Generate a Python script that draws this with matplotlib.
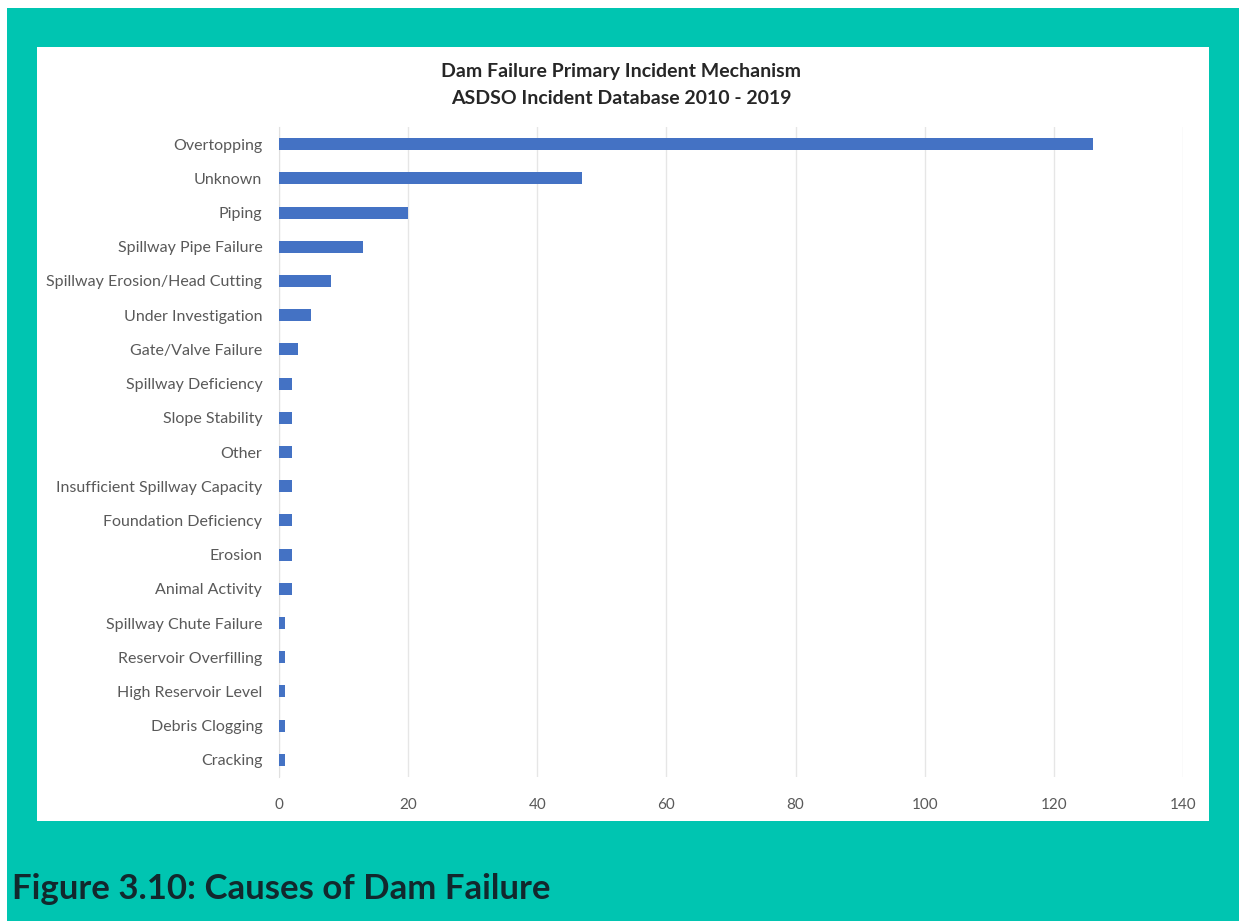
import matplotlib.pyplot as plt
from matplotlib.patches import Rectangle

# incident counts, listed top to bottom
mechanisms = [
    "Overtopping", "Unknown", "Piping", "Spillway Pipe Failure",
    "Spillway Erosion/Head Cutting", "Under Investigation", "Gate/Valve Failure",
    "Spillway Deficiency", "Slope Stability", "Other",
    "Insufficient Spillway Capacity", "Foundation Deficiency", "Erosion",
    "Animal Activity", "Spillway Chute Failure", "Reservoir Overfilling",
    "High Reservoir Level", "Debris Clogging", "Cracking",
]
counts = [126, 47, 20, 13, 8, 5, 3, 2, 2, 2, 2, 2, 2, 2, 1, 1, 1, 1, 1]
x_ticks = [0, 20, 40, 60, 80, 100, 120, 140]

TEAL = "#00C5B1"
BAR = "#4472C4"
GREY_TXT = "#595959"

plt.rcParams['font.family'] = ['Lato', 'DejaVu Sans']

W, H = 1239, 921
fig = plt.figure(figsize=(W / 100, H / 100), dpi=100)
fig.patch.set_facecolor("white")

# teal frame and white chart panel (pixel boxes converted to figure fractions)
def px_rect(x0, y0, x1, y1, color, z):
    fig.patches.append(Rectangle((x0 / W, 1 - y1 / H), (x1 - x0) / W, (y1 - y0) / H,
                                 transform=fig.transFigure, facecolor=color,
                                 edgecolor="none", zorder=z))

px_rect(7, 8, W, H, TEAL, 0)
px_rect(37, 47, 1209, 821, "white", 1)

ax = fig.add_axes([279 / W, 1 - 777 / H, (1183 - 279) / W, (777 - 127) / H])
ax.set_zorder(2)
ax.set_facecolor("none")

ypos = list(range(len(mechanisms)))
ax.barh(ypos, counts, height=0.35, color=BAR, zorder=3)
ax.set_ylim(len(mechanisms) - 0.5, -0.5)
ax.set_yticks(ypos)
ax.set_yticklabels(mechanisms, fontsize=11.5, color=GREY_TXT)

ax.set_xlim(0, 140)
ax.set_xticks(x_ticks)
ax.set_xticklabels([str(t) for t in x_ticks], fontsize=11, color=GREY_TXT)
ax.tick_params(axis="both", length=0)
ax.tick_params(axis="y", pad=12)
ax.tick_params(axis="x", pad=15)
ax.grid(axis="x", color="#E6E6E6", linewidth=1, zorder=0)

for side in ["top", "right", "bottom"]:
    ax.spines[side].set_visible(False)
ax.spines["left"].set_color("#E0E0E0")

fig.text(621 / W, 1 - 72 / H, "Dam Failure Primary Incident Mechanism",
         ha="center", va="center", fontsize=14, fontweight="bold", color="#262626", zorder=3)
fig.text(621 / W, 1 - 99 / H, "ASDSO Incident Database 2010 - 2019",
         ha="center", va="center", fontsize=14, fontweight="bold", color="#262626", zorder=3)

fig.text(12 / W, 1 - 889 / H, "Figure 3.10: Causes of Dam Failure",
         ha="left", va="center", fontsize=25, fontweight="bold", color="#12282D", zorder=3)

fig.savefig("out.png", dpi=100)
